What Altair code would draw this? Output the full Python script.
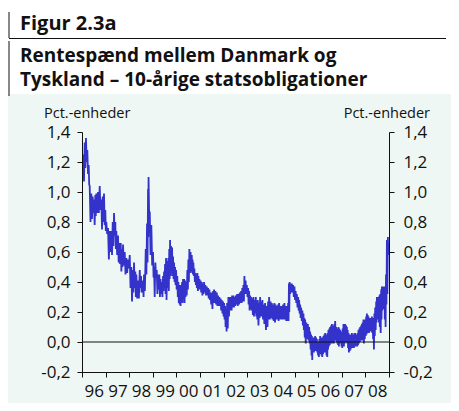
import altair as alt
import pandas as pd

# Rentespænd (pct.-enheder): (decimal year, high, low) of the daily band
s_1996_1998 = [
    (1996.000, 1.23, 1.14), (1996.055, 1.25, 1.07), (1996.114, 1.33, 1.16), (1996.169, 1.36, 1.20),
    (1996.225, 1.28, 1.12), (1996.284, 1.18, 1.05), (1996.326, 1.04, 0.80), (1996.394, 0.99, 0.82),
    (1996.453, 0.97, 0.86), (1996.508, 0.95, 0.78), (1996.564, 0.98, 0.84), (1996.606, 0.99, 0.86),
    (1996.678, 1.00, 0.86), (1996.750, 1.04, 0.88), (1996.818, 0.95, 0.75), (1996.877, 0.97, 0.80),
    (1996.932, 0.99, 0.78), (1996.987, 0.88, 0.74), (1997.030, 0.80, 0.72), (1997.102, 0.76, 0.55),
    (1997.174, 0.74, 0.60), (1997.242, 0.74, 0.58), (1997.301, 0.80, 0.64), (1997.356, 0.86, 0.71),
    (1997.411, 0.80, 0.62), (1997.453, 0.74, 0.58), (1997.525, 0.71, 0.53), (1997.581, 0.66, 0.52),
    (1997.640, 0.66, 0.47), (1997.695, 0.62, 0.50), (1997.737, 0.65, 0.51), (1997.809, 0.60, 0.45),
    (1997.877, 0.56, 0.46), (1997.949, 0.55, 0.49), (1998.021, 0.58, 0.36), (1998.089, 0.50, 0.27),
    (1998.148, 0.48, 0.33), (1998.203, 0.53, 0.36), (1998.258, 0.47, 0.30), (1998.301, 0.45, 0.29),
    (1998.373, 0.41, 0.29), (1998.445, 0.48, 0.36), (1998.500, 0.44, 0.33), (1998.542, 0.41, 0.33),
    (1998.585, 0.40, 0.30), (1998.627, 0.45, 0.34), (1998.699, 0.62, 0.45), (1998.754, 0.79, 0.53),
    (1998.797, 1.02, 0.70), (1998.818, 1.10, 0.85), (1998.869, 0.87, 0.58), (1998.936, 0.78, 0.51),
]
s_1999_2001 = [
    (1999.008, 0.60, 0.43), (1999.051, 0.50, 0.30), (1999.106, 0.53, 0.43), (1999.165, 0.48, 0.32),
    (1999.220, 0.45, 0.35), (1999.275, 0.45, 0.30), (1999.326, 0.42, 0.32), (1999.377, 0.40, 0.30),
    (1999.432, 0.44, 0.34), (1999.475, 0.47, 0.37), (1999.517, 0.52, 0.32), (1999.559, 0.56, 0.28),
    (1999.602, 0.54, 0.36), (1999.657, 0.56, 0.34), (1999.695, 0.62, 0.42), (1999.729, 0.68, 0.44),
    (1999.771, 0.64, 0.46), (1999.814, 0.63, 0.44), (1999.856, 0.57, 0.42), (1999.898, 0.53, 0.40),
    (1999.941, 0.50, 0.38), (1999.983, 0.48, 0.35), (2000.034, 0.44, 0.30), (2000.081, 0.40, 0.26),
    (2000.119, 0.38, 0.25), (2000.153, 0.35, 0.24), (2000.195, 0.38, 0.27), (2000.237, 0.40, 0.26),
    (2000.280, 0.42, 0.30), (2000.322, 0.42, 0.26), (2000.364, 0.41, 0.30), (2000.407, 0.40, 0.31),
    (2000.462, 0.48, 0.35), (2000.504, 0.55, 0.40), (2000.547, 0.62, 0.46), (2000.597, 0.60, 0.47),
    (2000.648, 0.58, 0.46), (2000.682, 0.55, 0.45), (2000.716, 0.53, 0.44), (2000.758, 0.49, 0.40),
    (2000.801, 0.46, 0.38), (2000.843, 0.45, 0.36), (2000.886, 0.46, 0.34), (2000.928, 0.44, 0.35),
    (2000.970, 0.42, 0.35), (2001.021, 0.41, 0.33), (2001.072, 0.40, 0.31), (2001.127, 0.39, 0.32),
    (2001.169, 0.40, 0.33), (2001.225, 0.38, 0.31), (2001.284, 0.37, 0.31), (2001.339, 0.36, 0.29),
    (2001.394, 0.35, 0.28), (2001.445, 0.33, 0.25), (2001.496, 0.33, 0.22), (2001.551, 0.34, 0.26),
    (2001.593, 0.35, 0.26), (2001.648, 0.34, 0.25), (2001.708, 0.33, 0.24), (2001.763, 0.31, 0.24),
    (2001.818, 0.30, 0.24), (2001.869, 0.29, 0.21), (2001.919, 0.28, 0.19), (2001.975, 0.27, 0.17),
]
s_2002_2004 = [
    (2002.017, 0.26, 0.15), (2002.059, 0.24, 0.10), (2002.102, 0.22, 0.07), (2002.144, 0.26, 0.09),
    (2002.199, 0.30, 0.17), (2002.250, 0.30, 0.21), (2002.314, 0.30, 0.21), (2002.356, 0.31, 0.23),
    (2002.411, 0.31, 0.23), (2002.462, 0.30, 0.24), (2002.513, 0.31, 0.25), (2002.568, 0.32, 0.24),
    (2002.623, 0.32, 0.25), (2002.682, 0.33, 0.26), (2002.737, 0.34, 0.26), (2002.788, 0.36, 0.27),
    (2002.835, 0.38, 0.27), (2002.877, 0.44, 0.32), (2002.928, 0.41, 0.32), (2002.979, 0.38, 0.30),
    (2003.034, 0.36, 0.25), (2003.076, 0.34, 0.21), (2003.119, 0.31, 0.22), (2003.161, 0.30, 0.21),
    (2003.212, 0.29, 0.18), (2003.258, 0.30, 0.17), (2003.309, 0.28, 0.19), (2003.360, 0.30, 0.17),
    (2003.403, 0.27, 0.15), (2003.445, 0.28, 0.11), (2003.500, 0.26, 0.16), (2003.542, 0.30, 0.17),
    (2003.593, 0.27, 0.17), (2003.640, 0.28, 0.15), (2003.691, 0.25, 0.12), (2003.754, 0.26, 0.08),
    (2003.826, 0.24, 0.10), (2003.881, 0.27, 0.15), (2003.924, 0.30, 0.15), (2003.987, 0.27, 0.16),
    (2004.038, 0.26, 0.15), (2004.093, 0.25, 0.14), (2004.148, 0.26, 0.13), (2004.199, 0.25, 0.15),
    (2004.250, 0.24, 0.15), (2004.305, 0.25, 0.14), (2004.347, 0.26, 0.15), (2004.411, 0.24, 0.15),
    (2004.462, 0.24, 0.15), (2004.517, 0.25, 0.15), (2004.572, 0.26, 0.15), (2004.623, 0.24, 0.14),
    (2004.674, 0.24, 0.14), (2004.729, 0.26, 0.14), (2004.763, 0.39, 0.20), (2004.792, 0.40, 0.32),
    (2004.835, 0.39, 0.33), (2004.886, 0.39, 0.33), (2004.941, 0.38, 0.30),
]
s_2005_2006 = [
    (2004.996, 0.37, 0.28), (2005.047, 0.34, 0.26), (2005.097, 0.32, 0.23), (2005.153, 0.30, 0.21),
    (2005.195, 0.28, 0.19), (2005.237, 0.25, 0.16), (2005.280, 0.23, 0.14), (2005.331, 0.21, 0.11),
    (2005.377, 0.19, 0.08), (2005.415, 0.16, 0.03), (2005.449, 0.15, -0.01), (2005.500, 0.13, 0.02),
    (2005.564, 0.12, 0.01), (2005.619, 0.10, -0.01), (2005.661, 0.07, -0.05), (2005.703, 0.05, -0.09),
    (2005.733, 0.04, -0.12), (2005.767, 0.03, -0.07), (2005.801, 0.02, -0.07), (2005.843, 0.03, -0.06),
    (2005.873, 0.04, -0.05), (2005.915, 0.03, -0.06), (2005.945, 0.02, -0.07), (2005.979, 0.00, -0.09),
    (2006.013, -0.01, -0.10), (2006.051, 0.02, -0.08), (2006.085, 0.04, -0.07), (2006.127, 0.03, -0.09),
    (2006.157, 0.02, -0.10), (2006.191, 0.03, -0.08), (2006.225, 0.04, -0.07), (2006.263, 0.05, -0.06),
    (2006.297, 0.06, -0.07), (2006.339, 0.05, -0.09), (2006.369, 0.04, -0.10), (2006.403, 0.06, -0.05),
    (2006.436, 0.08, -0.03), (2006.475, 0.09, -0.02), (2006.508, 0.10, -0.01), (2006.551, 0.11, 0.00),
    (2006.581, 0.12, -0.01), (2006.614, 0.11, 0.00), (2006.648, 0.10, -0.01), (2006.686, 0.12, 0.01),
    (2006.720, 0.14, 0.02), (2006.763, 0.10, 0.00), (2006.792, 0.08, -0.01), (2006.826, 0.09, -0.02),
    (2006.860, 0.10, -0.03), (2006.898, 0.09, -0.01), (2006.932, 0.08, -0.01), (2006.975, 0.07, -0.03),
]
s_2007_2008 = [
    (2007.004, 0.06, -0.04), (2007.038, 0.09, -0.03), (2007.072, 0.12, -0.03), (2007.110, 0.12, -0.01),
    (2007.144, 0.12, 0.01), (2007.186, 0.11, 0.00), (2007.216, 0.10, -0.01), (2007.250, 0.08, -0.04),
    (2007.284, 0.06, -0.07), (2007.322, 0.05, -0.06), (2007.356, 0.04, -0.05), (2007.398, 0.05, -0.04),
    (2007.428, 0.06, -0.03), (2007.462, 0.05, -0.04), (2007.496, 0.05, -0.04), (2007.534, 0.06, -0.03),
    (2007.568, 0.06, -0.02), (2007.610, 0.05, -0.03), (2007.640, 0.04, -0.03), (2007.674, 0.06, -0.02),
    (2007.708, 0.08, -0.01), (2007.746, 0.09, 0.00), (2007.780, 0.10, 0.02), (2007.822, 0.11, 0.01),
    (2007.852, 0.12, 0.02), (2007.886, 0.13, 0.01), (2007.919, 0.15, -0.01), (2007.958, 0.14, 0.02),
    (2007.992, 0.15, 0.04), (2008.034, 0.17, 0.05), (2008.064, 0.19, 0.06), (2008.097, 0.18, 0.06),
    (2008.131, 0.17, 0.06), (2008.169, 0.16, 0.07), (2008.203, 0.15, 0.08), (2008.246, 0.16, 0.07),
    (2008.275, 0.17, 0.06), (2008.309, 0.16, 0.02), (2008.343, 0.15, -0.05), (2008.381, 0.19, 0.04),
    (2008.415, 0.23, 0.08), (2008.458, 0.27, 0.13), (2008.487, 0.30, 0.17), (2008.521, 0.30, 0.15),
    (2008.555, 0.30, 0.13), (2008.593, 0.31, 0.10), (2008.627, 0.32, 0.06), (2008.669, 0.35, 0.15),
    (2008.699, 0.37, 0.21), (2008.733, 0.37, 0.22), (2008.767, 0.37, 0.23), (2008.805, 0.36, 0.15),
    (2008.839, 0.37, 0.10), (2008.873, 0.45, 0.25), (2008.911, 0.68, 0.32), (2008.953, 0.70, 0.60),
    (2008.987, 0.66, 0.58), (2009.000, 0.63, 0.58),
]

year_ticks = list(range(1996, 2010))
y_ticks = [-0.2, 0.0, 0.2, 0.4, 0.6, 0.8, 1.0, 1.2, 1.4]

title_label = "Figur 2.3a"
title_lines = ["Rentespænd mellem Danmark og", "Tyskland – 10-årige statsobligationer"]
unit_label = "Pct.-enheder"

# ---- build the table: each reading gives a high and a low daily value
series = s_1996_1998 + s_1999_2001 + s_2002_2004 + s_2005_2006 + s_2007_2008
rows = []
for i, (t, hi, lo) in enumerate(series):
    t_next = series[i + 1][0] if i + 1 < len(series) else t
    rows.append({"t": t, "v": hi, "o": 2 * i})
    rows.append({"t": (t + t_next) / 2, "v": lo, "o": 2 * i + 1})
df = pd.DataFrame(rows)

FONT = "Open Sans"
W, H = 307, 240
PAD = {"left": 74, "top": 124, "right": 62, "bottom": 31}
INK = "#111111"
BLUE = "#3333cc"
MINT = "#eef7f3"

yscale = alt.Scale(domain=[-0.2, 1.4], nice=False, zero=False)
xscale = alt.Scale(domain=[1996, 2009], nice=False, zero=False)
ylabel = "(datum.value < -0.001 ? '-' : '') + replace(format(abs(datum.value), '.1f'), '.', ',')"

one = alt.Data(values=[{}])

bg = alt.Chart(one).mark_rect(fill=MINT, clip=False).encode(
    x=alt.value(-PAD["left"]), x2=alt.value(W + PAD["right"]),
    y=alt.value(-38), y2=alt.value(H + PAD["bottom"]))

line = alt.Chart(df).mark_line(color=BLUE, strokeWidth=1.8, clip=True).encode(
    x=alt.X("t:Q", scale=xscale, axis=alt.Axis(
        values=year_ticks, title=None, grid=False, zindex=2,
        labelExpr="datum.value < 2009 ? substring(toString(datum.value), 2) : ''",
        labelOffset=11.8, labelOverlap=False, labelFlush=False, labelPadding=6,
        tickSize=5, labelFontSize=17, labelFont=FONT, labelColor=INK,
        domainColor=INK, tickColor=INK)),
    y=alt.Y("v:Q", scale=yscale, axis=alt.Axis(
        orient="left", values=y_ticks, title=None, grid=False, labelExpr=ylabel, zindex=2,
        tickSize=5, labelPadding=7, labelFontSize=17, labelFont=FONT, labelColor=INK,
        domainColor=INK, tickColor=INK, labelFlush=False)),
    order="o:Q")

zero = alt.Chart(alt.Data(values=[{"z": 0.0}])).mark_rule(color=INK, strokeWidth=1.2).encode(
    y=alt.Y("z:Q", scale=yscale, axis=alt.Axis(
        orient="right", values=y_ticks, title=None, grid=False, labelExpr=ylabel, zindex=2,
        tickSize=5, labelPadding=9, labelFontSize=17, labelFont=FONT, labelColor=INK,
        domainColor=INK, tickColor=INK, labelFlush=False)))

def txt(s, x, y, size, weight="normal", align="left"):
    return alt.Chart(one).mark_text(
        text=s, align=align, baseline="alphabetic", font=FONT, fontSize=size,
        fontWeight=weight, color=INK).encode(x=alt.value(x), y=alt.value(y))

def rule(x, y, x2, y2):
    return alt.Chart(one).mark_rule(color=INK, strokeWidth=1).encode(
        x=alt.value(x), y=alt.value(y), x2=alt.value(x2), y2=alt.value(y2))

header = [
    rule(-73, -120, -73, -94),
    rule(-73, -93.5, 364, -93.5),
    rule(-73, -91, -73, -36),
    txt(title_label, -62, -102.5, 20, "bold"),
    txt(title_lines[0], -62, -70.5, 19, "bold"),
    txt(title_lines[1], -62, -46, 19, "bold"),
    txt(unit_label, -38, -14.5, 14.5),
    txt(unit_label, 348, -14.5, 14.5, align="right"),
]

chart = alt.layer(bg, line, zero, *header).resolve_scale(y="independent").properties(
    width=W, height=H, padding=PAD, autosize=alt.AutoSizeParams(type="none"),
    background="white",
).configure_view(stroke=None)

chart.save("out.html", embed_options={"renderer": "svg", "actions": False})
